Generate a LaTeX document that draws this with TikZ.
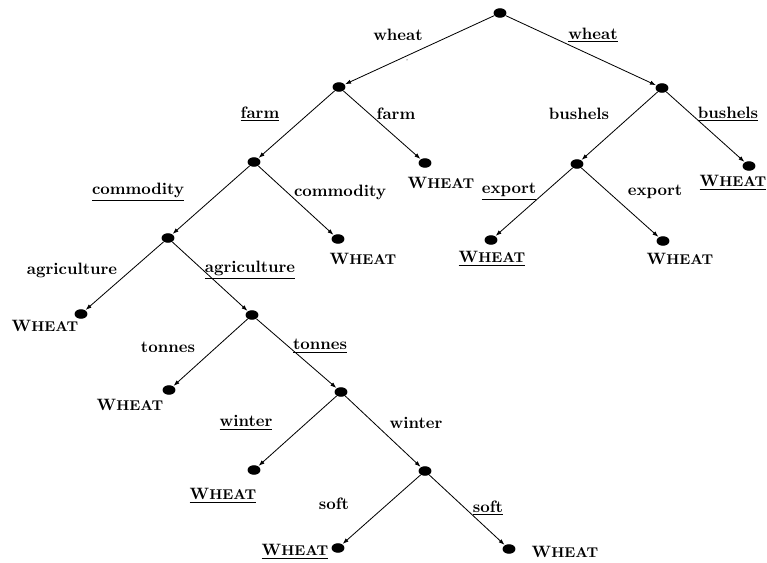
\documentclass[tikz,border=0pt]{standalone}
\usetikzlibrary{shapes.geometric,arrows.meta}
\newcommand{\Wht}{\textbf{W{\fontsize{8.6}{9}\selectfont HEAT}}}
\tikzset{
  dot/.style={ellipse,fill=black,draw=none,minimum width=7.8pt,minimum height=5.8pt,inner sep=0pt},
  lab/.style={font=\bfseries,inner sep=1pt},
  leaflab/.style={inner sep=1pt},
  arr/.style={-{Latex[length=3.6pt,width=2.6pt]},line width=0.5pt,shorten >=0.2pt}
}
\begin{document}
\begin{tikzpicture}[x=0.6075pt,y=-0.6075pt]
\useasboundingbox (0,0) rectangle (767,563);
% nodes
\node[dot] (r) at (500,13) {};
\node[dot] (a) at (339,87) {};
\node[dot] (b) at (662,88) {};
\node[dot] (fl) at (254,162) {};
\node[dot] (fr) at (425,163) {};
\node[dot] (bl) at (577,164) {};
\node[dot] (br) at (749,166) {};
\node[dot] (c) at (168,238) {};
\node[dot] (cr) at (338,239) {};
\node[dot] (el) at (491,240) {};
\node[dot] (er) at (663,241) {};
\node[dot] (gl) at (81,314) {};
\node[dot] (gr) at (252,315) {};
\node[dot] (tl) at (169,390) {};
\node[dot] (tr) at (341,392) {};
\node[dot] (wl) at (254,470) {};
\node[dot] (wr) at (425,471) {};
\node[dot] (sl) at (338,548) {};
\node[dot] (sr) at (509,549) {};
% stray speck
\fill (407,60) circle (0.5);
% edges
\draw[arr] (r) -- (a);
\draw[arr] (r) -- (b);
\draw[arr] (a) -- (fl);
\draw[arr] (a) -- (fr);
\draw[arr] (b) -- (bl);
\draw[arr] (b) -- (br);
\draw[arr] (fl) -- (c);
\draw[arr] (fl) -- (cr);
\draw[arr] (bl) -- (el);
\draw[arr] (bl) -- (er);
\draw[arr] (c) -- (gl);
\draw[arr] (c) -- (gr);
\draw[arr] (gr) -- (tl);
\draw[arr] (gr) -- (tr);
\draw[arr] (tr) -- (wl);
\draw[arr] (tr) -- (wr);
\draw[arr] (wr) -- (sl);
\draw[arr] (wr) -- (sr);
% edge labels
\node[lab] (l1) at (398,35) {wheat};
\node[lab] (l2) at (593,35) {\underline{wheat}};
\node[lab] (l3) at (260,114) {\underline{farm}};
\node[lab] (l4) at (396,114) {farm};
\node[lab] (l5) at (579,114) {bushels};
\node[lab] (l6) at (728,114) {\underline{bushels}};
\node[lab] (l7) at (138,192) {\underline{commodity}};
\node[lab] (l8) at (340,192) {commodity};
\node[lab] (l9) at (509,192) {\underline{export}};
\node[lab] (l10) at (655,192) {export};
\node[lab] (l11) at (72,270) {agriculture};
\node[lab] (l12) at (250,270) {\underline{agriculture}};
\node[lab] (l13) at (168,347) {tonnes};
\node[lab] (l14) at (320,346) {\underline{tonnes}};
\node[lab] (l15) at (246,423) {\underline{winter}};
\node[lab] (l16) at (416,423) {winter};
\node[lab] (l17) at (334,504) {soft};
\node[lab] (l18) at (488,508) {\underline{soft}};
% leaf labels
\node[leaflab] (w1) at (441,183) {\Wht};
\node[leaflab] (w2) at (733,183) {\underline{\Wht}};
\node[leaflab] (w3) at (363,259) {\Wht};
\node[leaflab] (w4) at (492,259) {\underline{\Wht}};
\node[leaflab] (w5) at (680,259) {\Wht};
\node[leaflab] (w6) at (45,326) {\Wht};
\node[leaflab] (w7) at (130,405) {\Wht};
\node[leaflab] (w8) at (223,496) {\underline{\Wht}};
\node[leaflab] (w9) at (295,552) {\underline{\Wht}};
\node[leaflab] (w10) at (565,552) {\Wht};
\end{tikzpicture}
\end{document}
